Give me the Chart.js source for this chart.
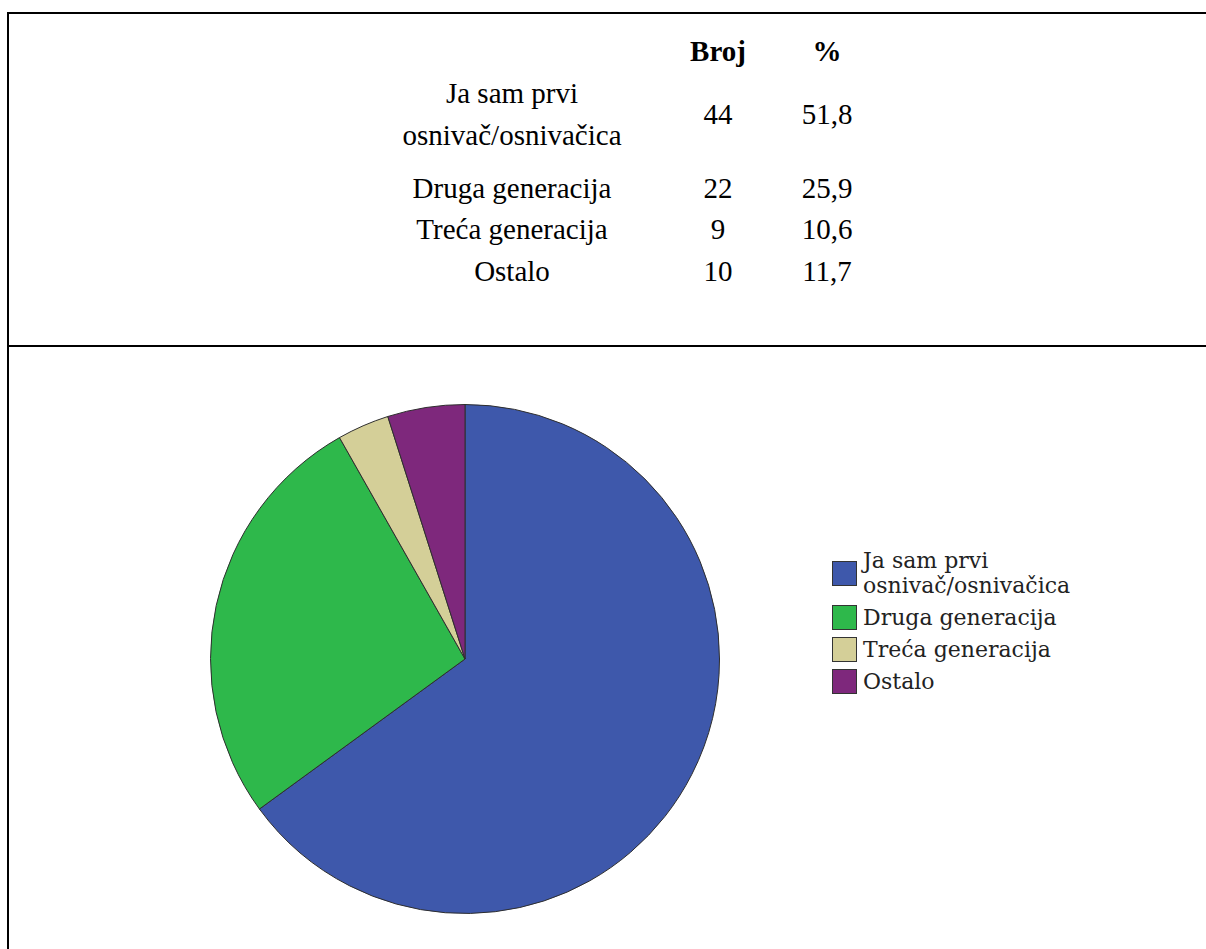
<!DOCTYPE html>
<html>
<head>
<meta charset="utf-8">
<script src="https://cdn.jsdelivr.net/npm/chart.js@4.4.1/dist/chart.umd.min.js"></script>
<style>
  html, body { margin: 0; padding: 0; background: #fff; }
  #page { position: relative; width: 1206px; height: 949px; overflow: hidden; background: #fff; }
  .rule { position: absolute; background: #000; }
  .cell { position: absolute; font-size: 29px; line-height: 42px; color: #000; text-align: center; white-space: normal; }
  .hdr { font-weight: bold; }
  #chartBox { position: absolute; left: 210px; top: 404px; width: 510px; height: 510px; }
  #legend { position: absolute; left: 832px; top: 548px; font-family: "DejaVu Serif", serif; font-size: 22px; line-height: 25px; color: #222; }
  .lrow { display: flex; align-items: center; margin-bottom: 7px; }
  .lbox { width: 25px; height: 25px; box-sizing: border-box; border: 1px solid #333; margin-right: 6px; flex: none; }
  .ltxt { width: 230px; }
</style>
</head>
<body>
<div id="page">
  <div class="rule" style="left:7px; top:12px; width:1199px; height:2px;"></div>
  <div class="rule" style="left:7px; top:345px; width:1199px; height:2px;"></div>
  <div class="rule" style="left:7px; top:12px; width:2px; height:937px;"></div>
  <div id="table"></div>
  <div id="chartBox"><canvas id="pie"></canvas></div>
  <div id="legend"></div>
</div>
<script>
// ---- data ----
const categories = ['Ja sam prvi osnivač/osnivačica', 'Druga generacija', 'Treća generacija', 'Ostalo'];
const counts = [44, 22, 9, 10];
const percents = [51.8, 25.9, 10.6, 11.7];
const columnHeaders = ['Broj', '%'];
// slice shares as drawn in the pie
const pieShares = [64.9, 26.8, 3.3, 4.9];
// ---- styles ----
const sliceColors = ['#3e58ab', '#2eb84b', '#d4cf98', '#7e287c'];

// pick an installed Times-like serif font
function fontAvailable(name) {
  const c = document.createElement('canvas').getContext('2d');
  const s = 'osnivač/osnivačica Druga generacija 0123';
  c.font = '40px monospace';
  const w0 = c.measureText(s).width;
  c.font = '40px "' + name + '", monospace';
  const w1 = c.measureText(s).width;
  c.font = '40px sans-serif';
  const w2 = c.measureText(s).width;
  c.font = '40px "' + name + '", sans-serif';
  const w3 = c.measureText(s).width;
  return w0 !== w1 || w2 !== w3;
}
const serifCandidates = ['Liberation Serif', 'Times New Roman', 'Tinos', 'Nimbus Roman', 'Nimbus Roman No9 L', 'FreeSerif', 'DejaVu Serif'];
let tableFont = 'serif';
for (const f of serifCandidates) { if (fontAvailable(f)) { tableFont = '"' + f + '"'; break; } }
const tableFontSize = tableFont.indexOf('DejaVu') >= 0 ? 23 : 29;

// ---- table (text) ----
const table = document.getElementById('table');
function addCell(text, cx, top, width, cls) {
  const d = document.createElement('div');
  d.className = 'cell' + (cls ? ' ' + cls : '');
  d.style.fontFamily = tableFont + ', serif';
  d.style.fontSize = tableFontSize + 'px';
  d.style.left = (cx - width / 2) + 'px';
  d.style.top = top + 'px';
  d.style.width = width + 'px';
  d.textContent = text;
  table.appendChild(d);
  return d;
}
const colCenters = [512, 718, 827];
addCell(columnHeaders[0], colCenters[1], 30, 120, 'hdr');
addCell(columnHeaders[1], colCenters[2], 30, 120, 'hdr');
// row text tops (line-height 42px)
const labelTops = [72, 167, 208, 250];
const numTops = [93, 167, 208, 250];
categories.forEach((c, i) => {
  addCell(c, colCenters[0], labelTops[i], 250);
  addCell(String(counts[i]), colCenters[1], numTops[i], 120);
  addCell(percents[i].toFixed(1).replace('.', ','), colCenters[2], numTops[i], 120);
});

// ---- legend ----
const legend = document.getElementById('legend');
categories.forEach((c, i) => {
  const row = document.createElement('div');
  row.className = 'lrow';
  const box = document.createElement('div');
  box.className = 'lbox';
  box.style.background = sliceColors[i];
  const t = document.createElement('div');
  t.className = 'ltxt';
  t.textContent = c;
  row.appendChild(box);
  row.appendChild(t);
  legend.appendChild(row);
});

// ---- pie ----
new Chart(document.getElementById('pie'), {
  type: 'pie',
  data: {
    labels: categories,
    datasets: [{
      data: pieShares,
      backgroundColor: sliceColors,
      borderColor: '#2e2e2e',
      borderWidth: 1
    }]
  },
  options: {
    responsive: true,
    maintainAspectRatio: false,
    animation: false,
    layout: { padding: 0 },
    plugins: {
      legend: { display: false },
      tooltip: { enabled: false }
    }
  }
});
</script>
</body>
</html>
